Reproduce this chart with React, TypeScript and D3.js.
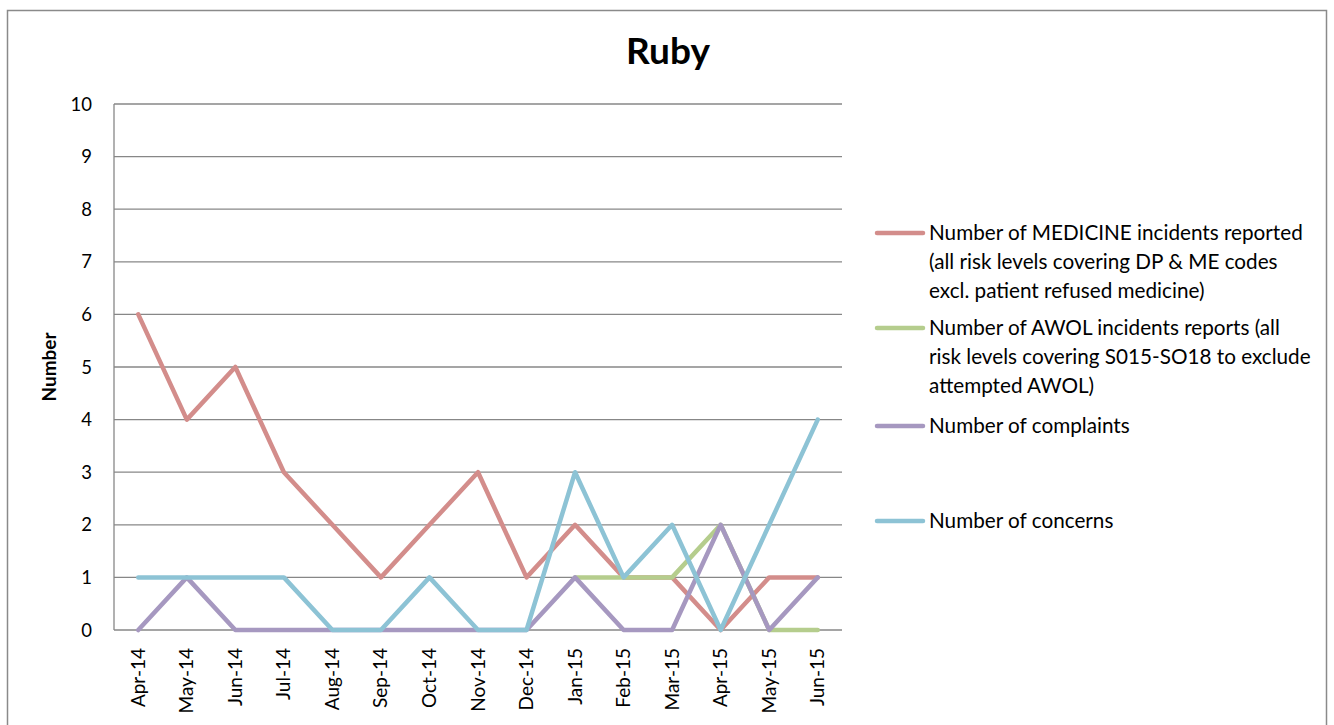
import React from "react";
import * as d3 from "d3";

const months = [
  "Apr-14", "May-14", "Jun-14", "Jul-14", "Aug-14", "Sep-14", "Oct-14", "Nov-14",
  "Dec-14", "Jan-15", "Feb-15", "Mar-15", "Apr-15", "May-15", "Jun-15",
];

const medicine = [6, 4, 5, 3, 2, 1, 2, 3, 1, 2, 1, 1, 0, 1, 1];
const awol: (number | null)[] = [null, null, null, null, null, null, null, null, null, 1, 1, 1, 2, 0, 0];
const complaints = [0, 1, 0, 0, 0, 0, 0, 0, 0, 1, 0, 0, 2, 0, 1];
const concerns = [1, 1, 1, 1, 0, 0, 1, 0, 0, 3, 1, 2, 0, 2, 4];

const yTicks = [0, 1, 2, 3, 4, 5, 6, 7, 8, 9, 10];

const seriesNames = [
  ["Number of MEDICINE incidents reported", "(all risk levels covering DP & ME codes", "excl. patient refused medicine)"],
  ["Number of AWOL incidents reports (all", "risk levels covering S015-SO18 to exclude", "attempted AWOL)"],
  ["Number of complaints"],
  ["Number of concerns"],
];
const seriesColors = ["#D38D8B", "#B5CD8D", "#A698C0", "#8DC3D5"];
const seriesValues: (number | null)[][] = [medicine, awol, complaints, concerns];

const W = 1334;
const H = 725;
const plot = { left: 114, right: 842, top: 104, bottom: 630 };
const FONT = "Lato, 'Open Sans', sans-serif";
const GRID = "#878787";

export default function App() {
  const x = d3.scalePoint<string>().domain(months).range([plot.left, plot.right]).padding(0.5);
  const y = d3.scaleLinear().domain([0, 10]).range([plot.bottom, plot.top]);

  const line = d3
    .line<number | null>()
    .defined((d) => d !== null)
    .x((_, i) => x(months[i]) as number)
    .y((d) => y(d as number));

  const legendX = 877;
  const legendRows = [233, 328, 426, 521];
  const lineGap = 29;

  return (
    <svg width={W} height={H} style={{ position: "absolute", left: 0, top: 0 }} fontFamily={FONT}>
      <rect x={0} y={0} width={W} height={H} fill="#fff" />
      <rect x={7.5} y={10.5} width={1319} height={730} fill="#fff" stroke="#8a8a8a" strokeWidth={1.5} />

      <text x={668} y={64} textAnchor="middle" fontSize={37} fontWeight="bold" fill="#000">
        Ruby
      </text>

      {yTicks.map((t) => (
        <g key={t}>
          <line x1={plot.left} x2={plot.right} y1={y(t)} y2={y(t)} stroke={GRID} strokeWidth={1.3} />
          <text x={92} y={y(t)} dy="0.36em" textAnchor="end" fontSize={18.5} fill="#000">
            {t}
          </text>
        </g>
      ))}
      <line x1={plot.left} x2={plot.left} y1={plot.top} y2={plot.bottom} stroke={GRID} strokeWidth={1.3} />

      <text
        transform={`translate(56, ${(plot.top + plot.bottom) / 2}) rotate(-90)`}
        textAnchor="middle"
        fontSize={19}
        fontWeight="bold"
        fill="#000"
      >
        Number
      </text>

      {months.map((m) => (
        <text
          key={m}
          transform={`translate(${(x(m) as number) + 6.5}, 648) rotate(-90)`}
          textAnchor="end"
          fontSize={19}
          fill="#000"
        >
          {m}
        </text>
      ))}

      {seriesValues.map((vals, i) => (
        <path
          key={i}
          d={line(vals) || ""}
          fill="none"
          stroke={seriesColors[i]}
          strokeWidth={4.5}
          strokeLinejoin="round"
          strokeLinecap="round"
        />
      ))}

      {seriesNames.map((lines, i) => (
        <g key={i}>
          <line
            x1={legendX}
            x2={legendX + 46}
            y1={legendRows[i]}
            y2={legendRows[i]}
            stroke={seriesColors[i]}
            strokeWidth={4.5}
            strokeLinecap="round"
          />
          {lines.map((l, j) => (
            <text key={j} x={929} y={legendRows[i] + j * lineGap} dy="0.36em" fontSize={20.7} fill="#000">
              {l}
            </text>
          ))}
        </g>
      ))}
    </svg>
  );
}
